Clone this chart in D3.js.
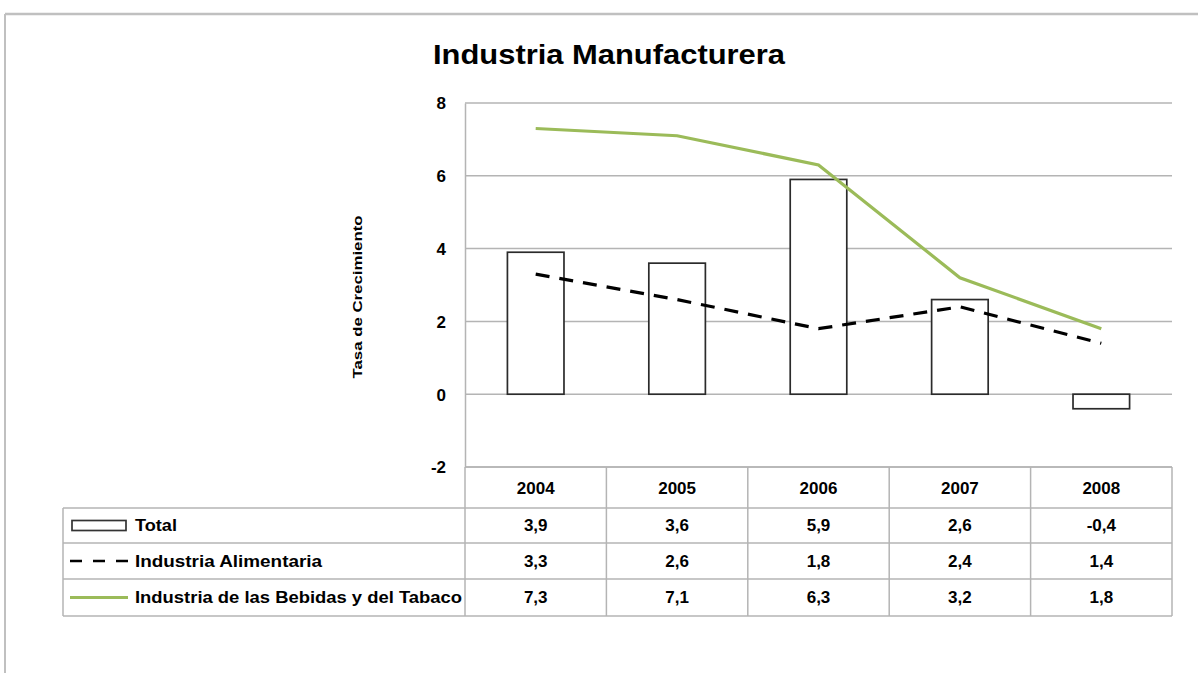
<!DOCTYPE html>
<html>
<head>
<meta charset="utf-8">
<script src="https://cdn.jsdelivr.net/npm/d3@7"></script>
<style>
  body { margin: 0; background: #fff; }
  text { font-family: "Liberation Sans", Arial, sans-serif; font-weight: bold; fill: #000; }
</style>
</head>
<body>
<svg id="chart" width="1198" height="673"></svg>
<script>
var years = ["2004", "2005", "2006", "2007", "2008"];
var total = [3.9, 3.6, 5.9, 2.6, -0.4];
var alimentaria = [3.3, 2.6, 1.8, 2.4, 1.4];
var bebidas = [7.3, 7.1, 6.3, 3.2, 1.8];
var seriesNames = ["Total", "Industria Alimentaria", "Industria de las Bebidas y del Tabaco"];
var yTicks = [-2, 0, 2, 4, 6, 8];

var svg = d3.select("#chart");
var gridColor = "#b4b4b4";
var green = "#9bbb59";
var comma = function(d){ return d3.format(".1f")(d).replace(".", ",").replace("\u2212", "-"); };

// outer frame of the chart object
svg.append("line").attr("x1", 5).attr("x2", 1198).attr("y1", 14).attr("y2", 14)
  .attr("stroke", "#c0c0c0").attr("stroke-width", 2.5);
svg.append("line").attr("x1", 5).attr("x2", 5).attr("y1", 14).attr("y2", 673)
  .attr("stroke", "#c0c0c0").attr("stroke-width", 2);

var plotLeft = 465, plotRight = 1172, plotTop = 103, plotBottom = 467;

var x = d3.scaleBand().domain(years).range([plotLeft, plotRight]);
var y = d3.scaleLinear().domain([-2, 8]).range([plotBottom, plotTop]);

svg.append("text").attr("x", 609).attr("y", 64).attr("text-anchor", "middle")
  .style("font-size", "28px").attr("textLength", 352).attr("lengthAdjust", "spacingAndGlyphs")
  .text("Industria Manufacturera");

// gridlines
svg.append("g").selectAll("line").data(yTicks).enter().append("line")
  .attr("x1", plotLeft).attr("x2", plotRight)
  .attr("y1", function(d){ return y(d); }).attr("y2", function(d){ return y(d); })
  .attr("stroke", gridColor).attr("stroke-width", 1.5);

var yAxis = svg.append("g").attr("transform", "translate(" + plotLeft + ",0)")
  .call(d3.axisLeft(y).tickValues(yTicks).tickSize(0).tickPadding(19)
    .tickFormat(function(d){ return String(d); }));
yAxis.select(".domain").attr("stroke", gridColor).attr("stroke-width", 1.5);
yAxis.selectAll("text").style("font-size", "17px").attr("dy", "0.35em");

svg.append("text").attr("transform", "translate(362,297) rotate(-90)")
  .attr("text-anchor", "middle").style("font-size", "13px")
  .attr("textLength", 163).attr("lengthAdjust", "spacingAndGlyphs")
  .text("Tasa de Crecimiento");

// bars
var barW = x.bandwidth() * 0.4;
svg.append("g").selectAll("rect").data(total).enter().append("rect")
  .attr("x", function(d, i){ return x(years[i]) + (x.bandwidth() - barW) / 2; })
  .attr("y", function(d){ return y(Math.max(0, d)); })
  .attr("width", barW)
  .attr("height", function(d){ return Math.abs(y(d) - y(0)); })
  .attr("fill", "#fff").attr("stroke", "#2b2b2b").attr("stroke-width", 1.7);

var line = d3.line()
  .x(function(d, i){ return x(years[i]) + x.bandwidth() / 2; })
  .y(function(d){ return y(d); });

svg.append("path").datum(alimentaria).attr("d", line).attr("fill", "none")
  .attr("stroke", "#000").attr("stroke-width", 3.2).attr("stroke-dasharray", "14,10");
svg.append("path").datum(bebidas).attr("d", line).attr("fill", "none")
  .attr("stroke", green).attr("stroke-width", 3.2);

// data table
var tableLeft = 63;
var rowEdges = [467, 508, 543, 579, 616];
var rows = [total, alimentaria, bebidas];
var labelWidths = [42, 187, 327];
var tbl = svg.append("g");

tbl.selectAll("line.h").data(rowEdges).enter().append("line")
  .attr("x1", function(d, i){ return i === 0 ? plotLeft : tableLeft; }).attr("x2", plotRight)
  .attr("y1", function(d){ return d; }).attr("y2", function(d){ return d; })
  .attr("stroke", gridColor).attr("stroke-width", 1.5);
var colEdges = years.map(function(d){ return x(d); }).concat([plotRight]);
tbl.selectAll("line.v").data(colEdges).enter().append("line")
  .attr("x1", function(d){ return d; }).attr("x2", function(d){ return d; })
  .attr("y1", rowEdges[0]).attr("y2", rowEdges[4])
  .attr("stroke", gridColor).attr("stroke-width", 1.5);
tbl.append("line").attr("x1", tableLeft).attr("x2", tableLeft)
  .attr("y1", rowEdges[1]).attr("y2", rowEdges[4])
  .attr("stroke", gridColor).attr("stroke-width", 1.5);

tbl.selectAll("text.year").data(years).enter().append("text")
  .attr("x", function(d){ return x(d) + x.bandwidth() / 2; })
  .attr("y", (rowEdges[0] + rowEdges[1]) / 2 + 1).attr("dy", "0.35em")
  .attr("text-anchor", "middle").style("font-size", "17px").text(function(d){ return d; });

rows.forEach(function(vals, r){
  var cy = (rowEdges[r + 1] + rowEdges[r + 2]) / 2;
  tbl.append("g").selectAll("text").data(vals).enter().append("text")
    .attr("x", function(d, i){ return x(years[i]) + x.bandwidth() / 2; })
    .attr("y", cy).attr("dy", "0.35em").attr("text-anchor", "middle")
    .style("font-size", "17px")
    .text(comma);
  tbl.append("text").attr("x", 135).attr("y", cy).attr("dy", "0.35em")
    .style("font-size", "16px")
    .attr("textLength", labelWidths[r]).attr("lengthAdjust", "spacingAndGlyphs")
    .text(seriesNames[r]);
});

// legend keys
var k1 = (rowEdges[1] + rowEdges[2]) / 2, k2 = (rowEdges[2] + rowEdges[3]) / 2, k3 = (rowEdges[3] + rowEdges[4]) / 2;
tbl.append("rect").attr("x", 72).attr("y", k1 - 5).attr("width", 54).attr("height", 10)
  .attr("fill", "#fff").attr("stroke", "#333").attr("stroke-width", 1.7);
tbl.append("line").attr("x1", 70).attr("x2", 128).attr("y1", k2).attr("y2", k2)
  .attr("stroke", "#000").attr("stroke-width", 2.6).attr("stroke-dasharray", "12,11");
tbl.append("line").attr("x1", 70).attr("x2", 128).attr("y1", k3).attr("y2", k3)
  .attr("stroke", green).attr("stroke-width", 3);
</script>
</body>
</html>
